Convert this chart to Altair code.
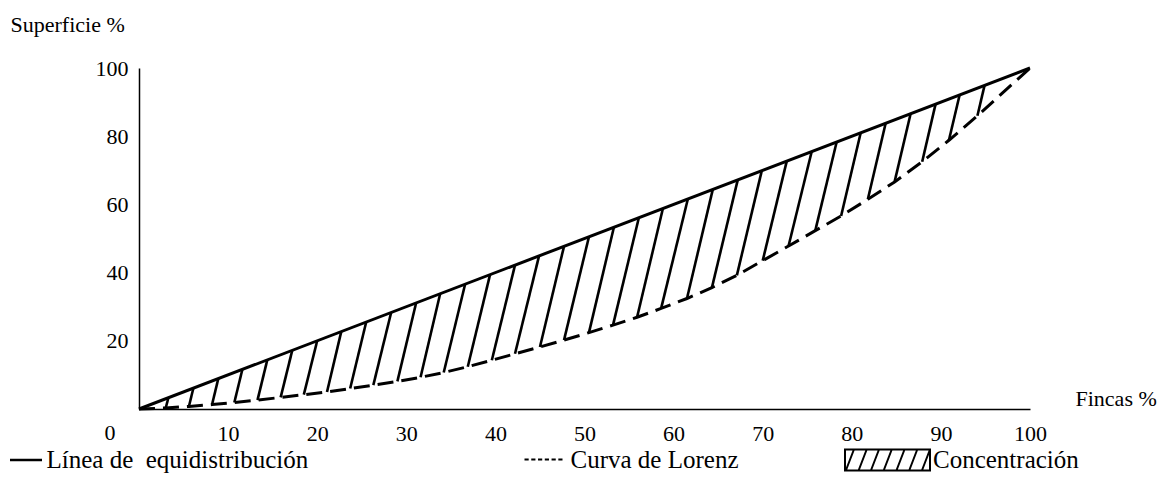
import altair as alt
import pandas as pd

FONT = "Liberation Serif"

# ---- values ----
x_ticks = [10, 20, 30, 40, 50, 60, 70, 80, 90, 100]
y_ticks = [20, 40, 60, 80, 100]
origin_label = ["0"]

equi_x = [0, 100]
equi_y = [0, 100]

# hatch lines: top end on the equidistribution line, bottom end on the Lorenz curve
hatch_top_x = [3.3, 6.1, 8.9, 11.6, 14.4, 17.2, 20.0, 22.7, 25.5, 28.3, 31.1, 33.8,
               36.6, 39.4, 42.2, 44.9, 47.7, 50.5, 53.3, 56.1, 58.8, 61.6, 64.4, 67.2,
               69.9, 72.7, 75.5, 78.3, 81.0, 83.8, 86.6, 89.4, 92.1, 94.9]
lorenz_x = [3.0, 5.6, 8.2, 10.7, 13.3, 15.9, 18.5, 21.1, 23.7, 26.3, 29.0, 31.6,
            34.2, 36.9, 39.6, 42.2, 45.0, 47.7, 50.5, 53.2, 55.9, 58.6, 61.5, 64.3,
            67.1, 70.0, 72.9, 75.9, 78.8, 81.8, 84.8, 87.9, 90.9, 94.1]
lorenz_y = [0.3, 0.75, 1.3, 1.9, 2.6, 3.4, 4.2, 5.0, 6.0, 7.0, 8.1, 9.3,
            10.7, 12.4, 14.3, 16.2, 18.2, 20.2, 22.4, 24.6, 26.9, 29.5, 32.4, 35.6,
            39.2, 43.5, 47.8, 52.3, 56.6, 61.5, 66.6, 72.5, 78.8, 86.0]
lorenz_start = [0, 0]
lorenz_end = [100, 100]

lab_equi = "Línea de\u00a0 equidistribución"
lab_lorenz = "Curva de Lorenz"
lab_conc = "Concentración"

# ---- tables ----
df_equi = pd.DataFrame({"x": equi_x, "y": equi_y, "serie": lab_equi})
df_lor = pd.DataFrame({
    "x": [lorenz_start[0]] + lorenz_x + [lorenz_end[0]],
    "y": [lorenz_start[1]] + lorenz_y + [lorenz_end[1]],
    "serie": lab_lorenz,
})
df_hatch = pd.DataFrame({
    "x": hatch_top_x, "y": hatch_top_x,  # tops lie on the y = x line
    "x2": lorenz_x, "y2": lorenz_y, "serie": lab_conc,
})
df_zero = pd.DataFrame({"x": [0], "y": [0], "t": origin_label})

# ---- scales / axes ----
xs = alt.Scale(domain=[0, 100], nice=False, zero=True)
ys = alt.Scale(domain=[0, 100], nice=False, zero=True)

xaxis = alt.Axis(values=x_ticks, ticks=False, tickSize=0, grid=False,
                 domainColor="black", domainWidth=1.5,
                 labelFont=FONT, labelFontSize=22, labelColor="black",
                 labelPadding=24, labelBaseline="middle", labelFlush=False,
                 labelOverlap=False,
                 title="Fincas %", titleFont=FONT, titleFontSize=22,
                 titleFontWeight="normal", titleColor="black",
                 titleX=936, titleY=-11, titleAlign="left", titleBaseline="middle")
yaxis = alt.Axis(values=y_ticks, ticks=False, tickSize=0, grid=False,
                 domainColor="black", domainWidth=1.5,
                 labelFont=FONT, labelFontSize=22, labelColor="black",
                 labelPadding=11, labelAlign="right", labelBaseline="middle",
                 labelFlush=False, labelOverlap=False,
                 title="Superficie %", titleFont=FONT, titleFontSize=22,
                 titleFontWeight="normal", titleColor="black", titleAngle=0,
                 titleX=-129, titleY=-44, titleAlign="left", titleBaseline="middle")

X = lambda f: alt.X(f, scale=xs, axis=xaxis)
Y = lambda f: alt.Y(f, scale=ys, axis=yaxis)

leg_common = dict(orient="none", title=None, padding=0, labelFont=FONT,
                  labelFontSize=25, labelColor="black", labelLimit=600,
                  direction="horizontal")

dash_path = ("M-1,0H-0.78M-0.644,0H-0.424M-0.288,0H-0.068M0.068,0H0.288"
             "M0.424,0H0.644M0.78,0H1")
hatch_path = ("M-1,-0.247H1V0.247H-1Z"
              "M-0.98,0.247L-0.79,-0.247M-0.68,0.247L-0.49,-0.247"
              "M-0.39,0.247L-0.2,-0.247M-0.09,0.247L0.1,-0.247"
              "M0.21,0.247L0.4,-0.247M0.51,0.247L0.7,-0.247"
              "M0.81,0.247L1,-0.247")

hatch = alt.Chart(df_hatch).mark_rule(strokeWidth=2.6).encode(
    x=X("x:Q"), y=Y("y:Q"), x2="x2:Q", y2="y2:Q",
    color=alt.Color("serie:N", scale=alt.Scale(domain=[lab_conc], range=["black"]),
                    legend=alt.Legend(legendX=705, legendY=348.5, symbolType=hatch_path,
                                      symbolSize=7225, symbolStrokeWidth=2,
                                      labelOffset=2, **leg_common)),
)

lorenz = alt.Chart(df_lor).mark_line(strokeWidth=3, strokeDash=[16, 8]).encode(
    x=X("x:Q"), y=Y("y:Q"),
    color=alt.Color("serie:N", scale=alt.Scale(domain=[lab_lorenz], range=["black"]),
                    legend=alt.Legend(legendX=384.5, legendY=371.5, symbolType=dash_path,
                                      symbolSize=1444, symbolStrokeWidth=2,
                                      labelOffset=7, **leg_common)),
)

equi = alt.Chart(df_equi).mark_line(strokeWidth=3).encode(
    x=X("x:Q"), y=Y("y:Q"),
    color=alt.Color("serie:N", scale=alt.Scale(domain=[lab_equi], range=["black"]),
                    legend=alt.Legend(legendX=-130.5, legendY=374.5, symbolType="stroke",
                                      symbolSize=1024, symbolStrokeWidth=2.5,
                                      labelOffset=3, **leg_common)),
)

zero = alt.Chart(df_zero).mark_text(font=FONT, fontSize=22, color="black",
                                    dx=-29, dy=24, align="center",
                                    baseline="middle").encode(
    x=X("x:Q"), y=Y("y:Q"), text="t:N")

chart = (
    alt.layer(hatch, lorenz, equi, zero)
    .resolve_scale(color="independent")
    .resolve_legend(color="independent")
    .properties(width=891, height=341,
                autosize=alt.AutoSizeParams(type="none"),
                padding={"left": 131, "top": 60, "right": 132, "bottom": 78},
                background="white")
    .configure_view(stroke=None)
)

chart.save("out.html", embed_options={"renderer": "svg", "actions": False})
